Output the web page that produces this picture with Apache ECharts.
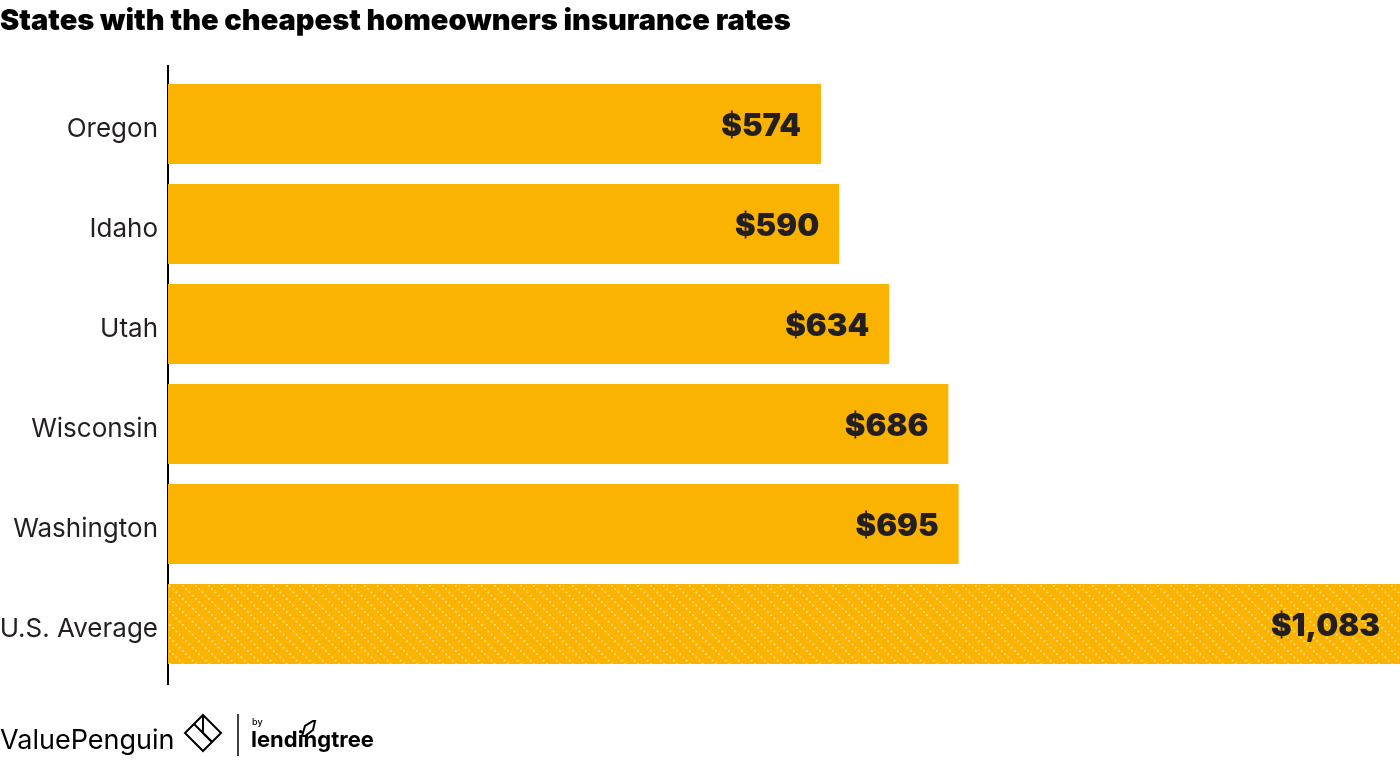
<!DOCTYPE html>
<html>
<head>
<meta charset="utf-8">
<script src="https://cdn.jsdelivr.net/npm/echarts@6/dist/echarts.min.js"></script>
<style>
html,body{margin:0;padding:0;background:#fff;}
#chart{width:1400px;height:761px;}
</style>
</head>
<body>
<div id="chart"></div>
<script>
const categories = ['Oregon', 'Idaho', 'Utah', 'Wisconsin', 'Washington', 'U.S. Average'];
const rates = [574, 590, 634, 686, 695, 1083];
const titleText = 'States with the cheapest homeowners insurance rates';

const GOLD = '#F9B300';
const INK = '#231F20';

// diagonal dotted pattern for the average bar
function makePattern() {
  const s = 13;
  const c = document.createElement('canvas');
  c.width = s; c.height = s;
  const g = c.getContext('2d');
  g.fillStyle = GOLD;
  g.fillRect(0, 0, s, s);
  g.fillStyle = 'rgba(255,255,255,0.55)';
  for (let i = 0; i < 4; i++) {
    const p = i * s / 4;
    g.fillRect(p, p, 1.8, 1.8);
  }
  return c;
}
const pattern = makePattern();

const chart = echarts.init(document.getElementById('chart'), null, {renderer: 'canvas'});

const seriesData = rates.map((v, i) => {
  const isAvg = categories[i] === 'U.S. Average';
  return {
    value: v,
    itemStyle: { color: isAvg ? { image: pattern, repeat: 'repeat' } : GOLD }
  };
});

chart.setOption({
  animation: false,
  backgroundColor: '#fff',
  title: {
    text: titleText,
    left: 0,
    top: 2,
    padding: [5, 0, 5, 0],
    textStyle: {
      fontFamily: 'Inter',
      fontWeight: 900,
      fontSize: 29,
      color: '#000'
    }
  },
  grid: { left: 168, right: 0, top: 74, height: 600, containLabel: false, outerBoundsMode: 'none' },
  xAxis: {
    type: 'value',
    min: 0,
    max: 1083,
    show: false
  },
  yAxis: {
    type: 'category',
    data: categories,
    inverse: true,
    axisLine: { show: false },
    axisTick: { show: false },
    axisLabel: {
      margin: 10,
      formatter: v => '{a|' + v + '}',
      rich: {
        a: {
          fontFamily: 'Inter',
          fontSize: 26,
          color: INK,
          padding: [11, 0, 0, 0]
        }
      }
    }
  },
  series: [{
    type: 'bar',
    data: seriesData,
    barWidth: 80,
    label: {
      show: true,
      position: 'insideRight',
      distance: 20,
      offset: [0, 3],
      formatter: p => '$' + p.value.toLocaleString('en-US'),
      fontFamily: 'Inter',
      fontWeight: 900,
      fontSize: 31,
      color: INK
    }
  }],
  graphic: [
    { type: 'line', shape: { x1: 168, y1: 65, x2: 168, y2: 685 }, style: { stroke: '#000', lineWidth: 2 } },
    { type: 'text', left: 0, top: 727, style: { text: 'ValuePenguin', font: '400 27px Inter', fill: '#000' } },
    // diamond icon
    { type: 'polygon', shape: { points: [[203, 715], [221, 733], [203, 751], [185, 733]] }, style: { fill: 'none', stroke: '#000', lineWidth: 2 } },
    { type: 'polyline', shape: { points: [[194, 724], [212, 742]] }, style: { stroke: '#000', lineWidth: 2 } },
    { type: 'polyline', shape: { points: [[203, 715], [203, 733], [212, 742]] }, style: { stroke: '#000', lineWidth: 2, fill: 'none' } },
    // separator
    { type: 'line', shape: { x1: 238, y1: 714, x2: 238, y2: 756 }, style: { stroke: '#000', lineWidth: 1.5 } },
    { type: 'text', left: 252, top: 718, style: { text: 'by', font: '500 9px Inter', fill: '#000' } },
    { type: 'text', left: 251, top: 729, style: { text: 'lendingtree', font: '700 22px Inter', fill: '#000' } },
    { type: 'polygon', shape: { points: [[302, 736], [305, 726], [313, 721], [315, 721], [313, 730], [305, 736]] }, style: { fill: 'none', stroke: '#000', lineWidth: 2 } }
  ]
});
</script>
</body>
</html>
